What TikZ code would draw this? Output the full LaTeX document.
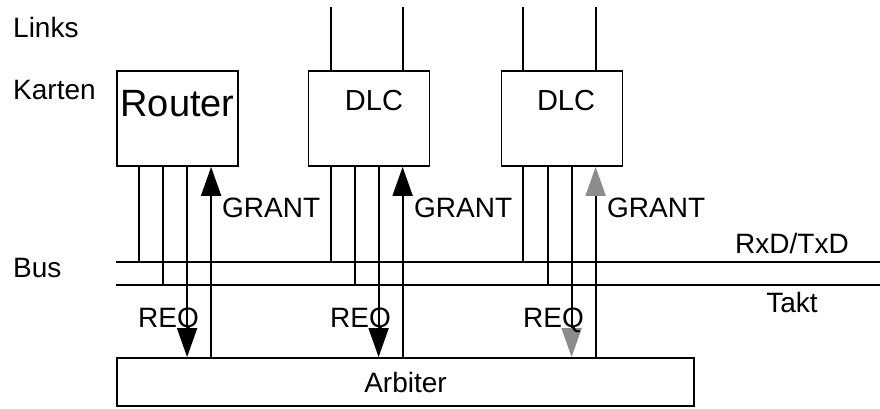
\documentclass[tikz,border=0pt]{standalone}
\usepackage{fontspec}
\setmainfont{Liberation Sans}
\usetikzlibrary{arrows.meta, positioning}
\definecolor{TipGray}{HTML}{8C8C8C}

\begin{document}
\begin{tikzpicture}[
  x=1pt, y=-1pt,
  card/.style={draw, line width=1.8pt, minimum width=121pt, minimum height=95pt, inner sep=0pt},
  wire/.style={line width=1.8pt},
  req/.style={wire, -{Triangle[length=29pt, width=20pt]}},
  reqgray/.style={wire, -{Triangle[length=29pt, width=20pt, color=TipGray]}},
  lbl/.style={font=\fontsize{28}{30}\selectfont, inner sep=0pt, anchor=base west},
  cardtxt/.style={inner sep=0pt, anchor=base}
]
\useasboundingbox (0,0) rectangle (880,409);

% side labels
\node[lbl] (links)  at (13,38)  {Links};
\node[lbl] (karten) at (13,100) {Karten};
\node[lbl] (bus)    at (13,277) {Bus};

% cards
\node[card] (router) at (177.5,118.5) {};
\node[card] (dlcA)   at (369,118.5)   {};
\node[card] (dlcB)   at (562,118.5)   {};
\node[cardtxt, font=\fontsize{38}{40}\selectfont] (routertxt) at (177.5,117) {Router};
\node[cardtxt, font=\fontsize{29}{30}\selectfont] (dlcAtxt)   at (374,111)   {DLC};
\node[cardtxt, font=\fontsize{29}{30}\selectfont] (dlcBtxt)   at (566,111)   {DLC};

\node[draw, line width=1.8pt, minimum width=577pt, minimum height=48pt, inner sep=0pt,
      font=\fontsize{28}{30}\selectfont] (arbiter) at (405.5,382) {Arbiter};

% bus lines
\coordinate (linkTop) at (0,7);
\coordinate (rxdW)  at (116,262);
\coordinate (rxdE)  at (880,262);
\coordinate (taktW) at (116,285);
\coordinate (taktE) at (880,285);
\draw[wire] (rxdW) -- (rxdE);
\draw[wire] (taktW) -- (taktE);
\node[font=\fontsize{28}{30}\selectfont, inner sep=0pt, anchor=base] (rxdlbl)  at (792,253) {RxD/TxD};
\node[font=\fontsize{28}{30}\selectfont, inner sep=0pt, anchor=base] (taktlbl) at (792,312) {Takt};

% links
\draw[wire] ([xshift=23]dlcA.north west) -- ([xshift=23]dlcA.north west |- linkTop);
\draw[wire] ([xshift=95]dlcA.north west) -- ([xshift=95]dlcA.north west |- linkTop);
\draw[wire] ([xshift=22]dlcB.north west) -- ([xshift=22]dlcB.north west |- linkTop);
\draw[wire] ([xshift=95]dlcB.north west) -- ([xshift=95]dlcB.north west |- linkTop);

% router taps
\draw[wire] ([xshift=23]router.south west) -- ([xshift=23]router.south west |- rxdW);
\draw[wire] ([xshift=47]router.south west) -- ([xshift=47]router.south west |- taktW);
\draw[req]  ([xshift=71]router.south west) -- ([xshift=71]router.south west |- arbiter.north);
\draw[req]  ([xshift=95]router.south west |- arbiter.north) -- ([xshift=95]router.south west);
\node[lbl] (grantR) at (222,217) {GRANT};
\node[lbl] (reqR)   at (138,327) {REQ};

% first DLC taps
\draw[wire] ([xshift=23]dlcA.south west) -- ([xshift=23]dlcA.south west |- rxdW);
\draw[wire] ([xshift=47]dlcA.south west) -- ([xshift=47]dlcA.south west |- taktW);
\draw[req]  ([xshift=71]dlcA.south west) -- ([xshift=71]dlcA.south west |- arbiter.north);
\draw[req]  ([xshift=95]dlcA.south west |- arbiter.north) -- ([xshift=95]dlcA.south west);
\node[lbl] (grantA) at (414,217) {GRANT};
\node[lbl] (reqA)   at (330,327) {REQ};

% second DLC taps
\draw[wire]    ([xshift=22]dlcB.south west) -- ([xshift=22]dlcB.south west |- rxdW);
\draw[wire]    ([xshift=47]dlcB.south west) -- ([xshift=47]dlcB.south west |- taktW);
\draw[reqgray] ([xshift=71]dlcB.south west) -- ([xshift=71]dlcB.south west |- arbiter.north);
\draw[reqgray] ([xshift=95]dlcB.south west |- arbiter.north) -- ([xshift=95]dlcB.south west);
\node[lbl] (grantB) at (607,217) {GRANT};
\node[lbl] (reqB)   at (523,327) {REQ};

\end{tikzpicture}
\end{document}
